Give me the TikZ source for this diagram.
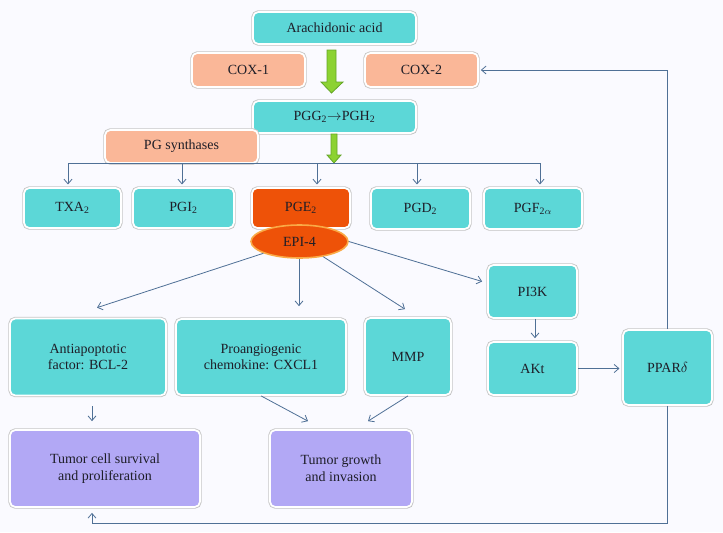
\documentclass[tikz,border=0pt]{standalone}
\usepackage{fontspec}
\setmainfont{Liberation Serif}
\usetikzlibrary{arrows.meta,shapes.geometric,shadows}
\definecolor{bgc}{RGB}{250,250,255}
\definecolor{cyanbox}{RGB}{92,215,215}
\definecolor{salmon}{RGB}{250,183,152}
\definecolor{orangebox}{RGB}{238,82,8}
\definecolor{ellborder}{RGB}{250,170,70}
\definecolor{lavender}{RGB}{178,168,245}
\definecolor{arrgreen}{RGB}{140,210,50}
\definecolor{arrgreenedge}{RGB}{100,165,40}
\definecolor{linec}{RGB}{79,112,150}
\definecolor{txt}{RGB}{30,30,40}
\tikzset{
  x=0.75pt, y=-0.75pt,
  wh/.style 2 args={minimum width=#1*0.75pt, minimum height=#2*0.75pt},
  box/.style={rectangle, rounded corners=4pt, draw=white, line width=1.3pt,
    text=txt, font=\fontsize{10.5}{12.5}\selectfont, align=center, inner sep=1pt,
    preaction={draw=black!22, line width=2.6pt, rounded corners=4pt},
    drop shadow={shadow xshift=0.6pt, shadow yshift=-0.9pt, fill=black!30, opacity=0.5}},
  cbox/.style={box, fill=cyanbox},
  sbox/.style={box, fill=salmon},
  obox/.style={box, fill=orangebox},
  lbox/.style={box, fill=lavender},
  arr/.style={draw=linec, line width=0.6pt, -{Straight Barb[length=3.5pt,width=6pt]}},
  conn/.style={draw=linec, line width=0.6pt},
  blockarrow/.style={fill=arrgreen, draw=arrgreenedge, line width=0.6pt, line join=miter}
}
\begin{document}
\begin{tikzpicture}
\fill[bgc] (0,0) rectangle (723,532);
\useasboundingbox (0,0) rectangle (723,532);

% top row
\node[cbox, wh={163}{32}] (aa) at (334.5,28) {Arachidonic acid};
\node[sbox, wh={113}{34}] (cox1) at (248.5,70) {COX-1};
\node[sbox, wh={113}{34}] (cox2) at (421.5,70) {COX-2};
\node[cbox, wh={163}{32}] (pgg) at (334.5,117) {PGG\textsubscript{2}$\rightarrow$PGH\textsubscript{2}};
\node[sbox, wh={153}{33}] (pgs) at (181.5,146.5) {PG synthases};

% block arrows
\draw[blockarrow] (327,50) -- (336,50) -- (336,82) -- (343,82) -- (331.5,93) -- (321,82) -- (327,82) -- cycle;
\draw[blockarrow] (331,134) -- (337,134) -- (337,155) -- (341,155) -- (334,163) -- (327,155) -- (331,155) -- cycle;

% prostanoids
\node[cbox, wh={97}{40}] (txa) at (72.5,208) {TXA\textsubscript{2}};
\node[cbox, wh={101}{40}] (pgi) at (183.5,208) {PGI\textsubscript{2}};
\node[obox, wh={98}{40}] (pge) at (301,208) {PGE\textsubscript{2}};
\node[cbox, wh={99}{41}] (pgd) at (420.5,208.5) {PGD\textsubscript{2}};
\node[cbox, wh={98}{41}] (pgf) at (533,208.5) {PGF\textsubscript{2$\alpha$}};

\node[ellipse, fill=orangebox, draw=ellborder, line width=1.2pt, text=txt,
      font=\fontsize{10.5}{12.5}\selectfont, wh={97}{33}, inner sep=0pt] (epi) at (299.5,241.5) {EPI-4};

% bus from PG synthases
\coordinate (bL) at (68,163);
\coordinate (bR) at (540,163);
\draw[conn] (bL) -- (bR);
\coordinate (b2) at (182,163);
\coordinate (b3) at (317,163);
\coordinate (b4) at (417,163);
\draw[arr, shorten >=2pt] (bL) -- (bL |- txa.north);
\draw[arr, shorten >=2pt] (b2) -- (b2 |- pgi.north);
\draw[arr, shorten >=2pt] (b3) -- (b3 |- pge.north);
\draw[arr, shorten >=2pt] (b4) -- (b4 |- pgd.north);
\draw[arr, shorten >=2pt] (bR) -- (bR |- pgf.north);

% lower boxes
\node[cbox, wh={156}{77}] (anti) at (88,357) {Antiapoptotic\\factor: BCL-2};
\node[cbox, wh={170}{76}] (cxcl) at (261,357) {Proangiogenic\\chemokine: CXCL1};
\node[cbox, wh={86}{77}] (mmp) at (408,356.5) {MMP};
\node[cbox, wh={89}{53}] (pi3k) at (532.5,291.5) {PI3K};
\node[cbox, wh={89}{53}] (akt) at (532.5,368.5) {AKt};
\node[cbox, wh={89}{75}] (ppar) at (667.5,367.5) {PPAR$\delta$};
\node[lbox, wh={190}{77}] (tcs) at (105,468.5) {Tumor cell survival\\and proliferation};
\node[lbox, wh={142}{77}] (tgi) at (341,468.5) {Tumor growth\\and invasion};

% EPI-4 connectors
\coordinate (cx) at ([shift={(38,-12)}]cxcl.north);
\draw[arr] (epi) -- ([shift={(9,-10)}]anti.north);
\draw[arr] (cx |- epi.south) -- (cx);
\draw[arr] (epi) -- ([shift={(-3,-8)}]mmp.north);
\draw[arr] (epi.east) -- ([shift={(-5,-10)}]pi3k.west);

% to tumor boxes
\draw[arr] ([shift={(4,10)}]anti.south) -- ([shift={(-13,-8)}]tcs.north);
\draw[arr] (cxcl.south) -- ([shift={(-33,-8)}]tgi.north);
\draw[arr] (mmp.south) -- ([shift={(27,-8)}]tgi.north);

% signalling chain
\draw[arr] ([shift={(2.5,0)}]pi3k.south) -- ([shift={(2.5,-3)}]akt.north);
\draw[arr, shorten >=2pt] (akt.east) -- (ppar.west |- akt.east);

% feedback loops
\draw[arr, shorten >=1.5pt] (ppar.north) |- (cox2.east);
\coordinate (lp) at (92,523);
\draw[arr] (ppar.south) |- (lp) -- ([shift={(-13,5)}]tcs.south);
\end{tikzpicture}
\end{document}
